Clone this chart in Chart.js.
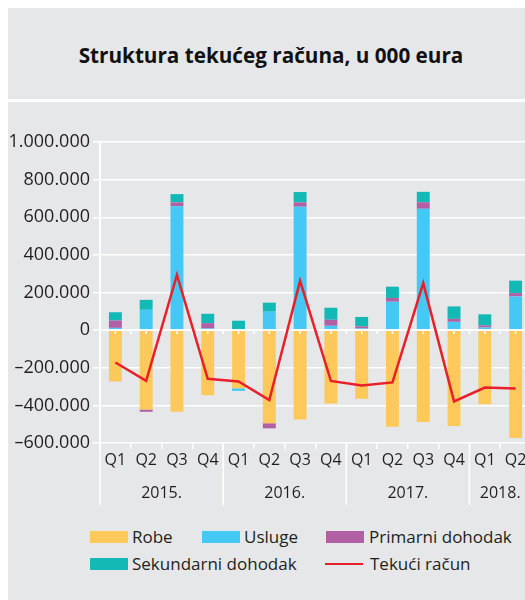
<!DOCTYPE html>
<html>
<head>
<meta charset="utf-8">
<script src="https://cdn.jsdelivr.net/npm/chart.js@4.4.1/dist/chart.umd.min.js"></script>
<style>
  html, body { margin: 0; padding: 0; width: 525px; height: 600px; overflow: hidden; background: #fff; }
  #head { position: absolute; left: 8px; top: 8px; width: 517px; height: 91px; background: #e6e7e8;
          font-family: "Open Sans", sans-serif; font-weight: bold; font-size: 20.7px; color: #111;
          line-height: 94px; text-align: center; box-sizing: border-box; padding-left: 9px; }
  #box { position: absolute; left: 8px; top: 102px; width: 517px; height: 498px; background: #e6e7e8; overflow: hidden; }
  #wrap { position: absolute; left: 0; top: 0; width: 523px; height: 420px; }
  .lg { position: absolute; font-family: "Open Sans", sans-serif; font-size: 17px; color: #231f20; line-height: 20px; white-space: nowrap; }
  .sw { position: absolute; width: 38px; height: 12px; }
</style>
</head>
<body>
<div id="head">Struktura tekućeg računa, u 000 eura</div>
<div id="box"><div id="wrap"><canvas id="chart" width="523" height="420"></canvas></div></div>

<div class="sw" style="left:90px;top:531px;background:#fec95b"></div><div class="lg" style="left:132px;top:527px">Robe</div>
<div class="sw" style="left:202px;top:531px;background:#45c9f4"></div><div class="lg" style="left:244px;top:527px">Usluge</div>
<div class="sw" style="left:326px;top:531px;background:#b160a4"></div><div class="lg" style="left:369px;top:527px">Primarni dohodak</div>
<div class="sw" style="left:90px;top:558px;background:#12b9b5"></div><div class="lg" style="left:132px;top:554px">Sekundarni dohodak</div>
<div class="sw" style="left:325px;top:563px;height:2px;background:#e8202a"></div><div class="lg" style="left:370px;top:554px">Tekući račun</div>

<script>
// kvartali i godine
const quarters = ['Q1', 'Q2', 'Q3', 'Q4', 'Q1', 'Q2', 'Q3', 'Q4', 'Q1', 'Q2', 'Q3', 'Q4', 'Q1', 'Q2'];
const years = ['2015.', '2016.', '2017.', '2018.'];
const yearCounts = [4, 4, 4, 2];

// vrijednosti u 000 eura (ocitano s grafa)
const robe = [-273000, -422000, -434000, -346000, -309000, -495000, -475000, -390000, -365000, -514000, -488000, -509000, -394000, -574000];
const usluge = [12000, 108000, 658000, 9000, -14000, 98000, 656000, 23000, 9000, 151000, 645000, 44000, 14000, 179000];
const primarni = [39000, -12000, 21000, 28000, 2000, -27000, 23000, 32000, 11000, 20000, 35000, 16000, 11000, 18000];
const sekundarni = [44000, 53000, 44000, 50000, 48000, 48000, 55000, 64000, 50000, 60000, 55000, 66000, 59000, 66000];
const tekuci = [-172000, -270000, 293000, -259000, -273000, -372000, 262000, -270000, -294000, -278000, 250000, -379000, -305000, -310000];

function fmt(v) {
  const s = String(Math.abs(v)).replace(/\B(?=(\d{3})+(?!\d))/g, '.');
  return (v < 0 ? '–' : '') + s;
}

Chart.defaults.font.family = "'Open Sans', sans-serif";
Chart.defaults.color = '#231f20';

// linije ispod osi, godine, nulta linija
const decor = {
  id: 'decor',
  beforeDatasetDraw(chart, args) {
    if (args.index !== 4) return;
    const ctx = chart.ctx, x = chart.scales.x, y = chart.scales.y;
    const y0 = Math.round(y.getPixelForValue(0));
    ctx.save();
    ctx.strokeStyle = '#fff';
    ctx.lineWidth = 2;
    ctx.beginPath();
    ctx.moveTo(chart.chartArea.left, y0);
    ctx.lineTo(chart.chartArea.right, y0);
    ctx.stroke();
    ctx.lineWidth = 1.5;
    const half = (x.getPixelForValue(1) - x.getPixelForValue(0)) / 2;
    for (let i = 0; i < quarters.length; i++) {
      const c = x.getPixelForValue(i);
      [c, c + half].forEach(px => {
        ctx.beginPath();
        ctx.moveTo(px, y0);
        ctx.lineTo(px, y0 + 4);
        ctx.stroke();
      });
    }
    ctx.restore();
  },
  afterDraw(chart) {
    const ctx = chart.ctx, x = chart.scales.x;
    const a = chart.chartArea;
    ctx.save();
    ctx.strokeStyle = '#fff';
    ctx.lineWidth = 1.5;
    ctx.beginPath();
    ctx.moveTo(a.left, a.top);
    ctx.lineTo(a.left, a.bottom + 62);
    ctx.stroke();
    let start = 0;
    ctx.font = "16px 'Open Sans', sans-serif";
    ctx.fillStyle = '#231f20';
    ctx.textAlign = 'center';
    ctx.textBaseline = 'middle';
    yearCounts.forEach((n, k) => {
      const end = start + n - 1;
      const cx = (x.getPixelForValue(start) + x.getPixelForValue(end)) / 2;
      ctx.fillText(years[k], cx, a.bottom + 50);
      if (start > 0) {
        const sx = (x.getPixelForValue(start - 1) + x.getPixelForValue(start)) / 2;
        ctx.beginPath();
        ctx.moveTo(sx, a.bottom);
        ctx.lineTo(sx, a.bottom + 62);
        ctx.stroke();
      }
      start += n;
    });
    ctx.restore();
  }
};

const ctx = document.getElementById('chart').getContext('2d');
const chart = new Chart(ctx, {
  type: 'bar',
  data: {
    labels: quarters,
    datasets: [
      { label: 'Robe', data: robe, backgroundColor: '#fec95b', order: 1 },
      { label: 'Usluge', data: usluge, backgroundColor: '#45c9f4', order: 1 },
      { label: 'Primarni dohodak', data: primarni, backgroundColor: '#b160a4', order: 1 },
      { label: 'Sekundarni dohodak', data: sekundarni, backgroundColor: '#12b9b5', order: 1 },
      { type: 'line', label: 'Tekući račun', data: tekuci, stack: 'tr', borderColor: '#e8202a',
        borderWidth: 2.5, pointRadius: 0, tension: 0, fill: false, order: 0 }
    ]
  },
  options: {
    responsive: false,
    animation: false,
    layout: { padding: { top: 40, right: 0, left: 0, bottom: 0 } },
    datasets: { bar: { categoryPercentage: 1, barPercentage: 0.42 } },
    plugins: { legend: { display: false }, tooltip: { enabled: false } },
    scales: {
      x: {
        stacked: true,
        grid: { offset: true, drawOnChartArea: false, color: '#fff', lineWidth: 1.5, tickLength: 6 },
        border: { display: false },
        ticks: { font: { size: 16 }, padding: 2, maxRotation: 0, autoSkip: false },
        afterFit(scale) { scale.height = 79; }
      },
      y: {
        stacked: true,
        min: -600000,
        max: 1000000,
        grid: { color: '#fff', lineWidth: 1.5, tickLength: 7 },
        border: { display: true, color: '#fff', width: 1.5 },
        ticks: { stepSize: 200000, font: { size: 18 }, padding: 3, callback: v => fmt(v) },
        afterFit(scale) { scale.width = 92; }
      }
    }
  },
  plugins: [decor]
});
</script>
</body>
</html>
